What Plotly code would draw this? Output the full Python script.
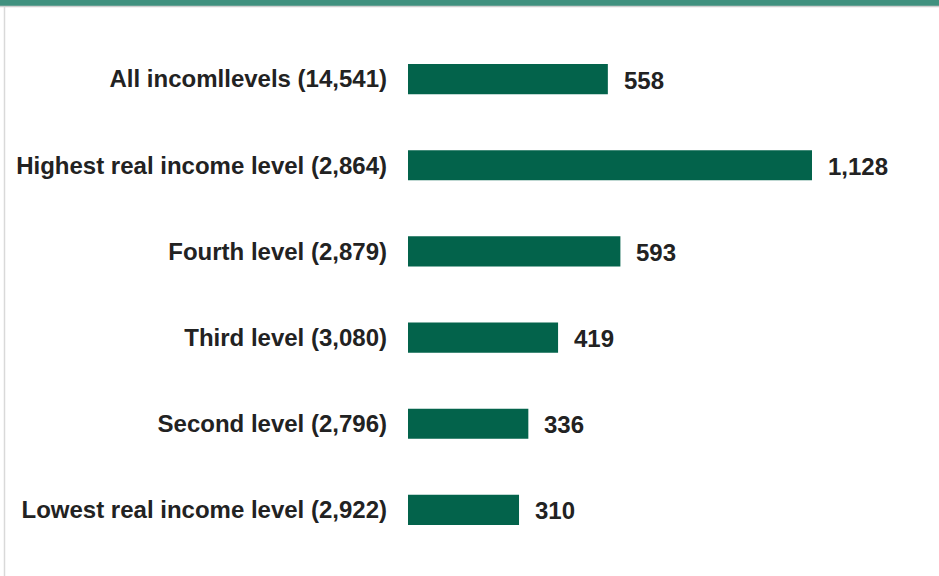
import plotly.graph_objects as go

# Income groups (respondent counts in parentheses) and the value for each group
categories = [
    "All incomllevels (14,541)",
    "Highest real income level (2,864)",
    "Fourth level (2,879)",
    "Third level (3,080)",
    "Second level (2,796)",
    "Lowest real income level (2,922)",
]
values = [558, 1128, 593, 419, 336, 310]

W, H = 939, 576
M_L, M_R, M_T, M_B = 408, 0, 36, 23
PLOT_W = W - M_L - M_R
X_MAX = PLOT_W / (404 / 1128)

BAR_COLOR = "#03634b"
TOP_COLOR = "#40917f"
TEXT_COLOR = "#222222"
FONT = "Liberation Sans"
FONT_SIZE = 24

fig = go.Figure(
    go.Bar(
        y=categories,
        x=values,
        orientation="h",
        width=0.35,
        marker=dict(color=BAR_COLOR, line=dict(width=0)),
        hoverinfo="skip",
    )
)

# Value labels to the right of each bar
for cat, val in zip(categories, values):
    fig.add_annotation(
        x=val, y=cat, text=f"<b>{val:,}</b>", showarrow=False,
        xanchor="left", xshift=14, yshift=-1,
        font=dict(family=FONT, size=FONT_SIZE, color=TEXT_COLOR),
    )

def px_x(p):
    return (p - M_L) / PLOT_W

def px_y(p):
    return 1 - (p - M_T) / (H - M_T - M_B)

# Top band and left frame line
fig.add_shape(type="rect", xref="paper", yref="paper",
              x0=px_x(0), x1=px_x(W), y0=px_y(6), y1=px_y(-2),
              fillcolor=TOP_COLOR, line=dict(width=0), layer="above")
fig.add_shape(type="line", xref="paper", yref="paper",
              x0=px_x(0), x1=px_x(W), y0=px_y(6.5), y1=px_y(6.5),
              line=dict(color="#cfcfcf", width=1.5))
fig.add_shape(type="line", xref="paper", yref="paper",
              x0=px_x(4.5), x1=px_x(4.5), y0=px_y(7), y1=px_y(H + 2),
              line=dict(color="#d9d9d9", width=1.5))

fig.update_layout(
    width=W, height=H,
    margin=dict(l=M_L, r=M_R, t=M_T, b=M_B, pad=0),
    paper_bgcolor="white", plot_bgcolor="white",
    showlegend=False,
    xaxis=dict(range=[0, X_MAX], visible=False, fixedrange=True),
    yaxis=dict(
        categoryorder="array", categoryarray=categories,
        autorange="reversed",
        showgrid=False, zeroline=False, showline=False,
        ticks="", ticklabelstandoff=20,
        tickmode="array", tickvals=categories,
        ticktext=[f"<b>{c}</b>" for c in categories],
        tickfont=dict(family=FONT, size=FONT_SIZE, color=TEXT_COLOR),
        fixedrange=True,
    ),
)

fig.write_html("out.html")
